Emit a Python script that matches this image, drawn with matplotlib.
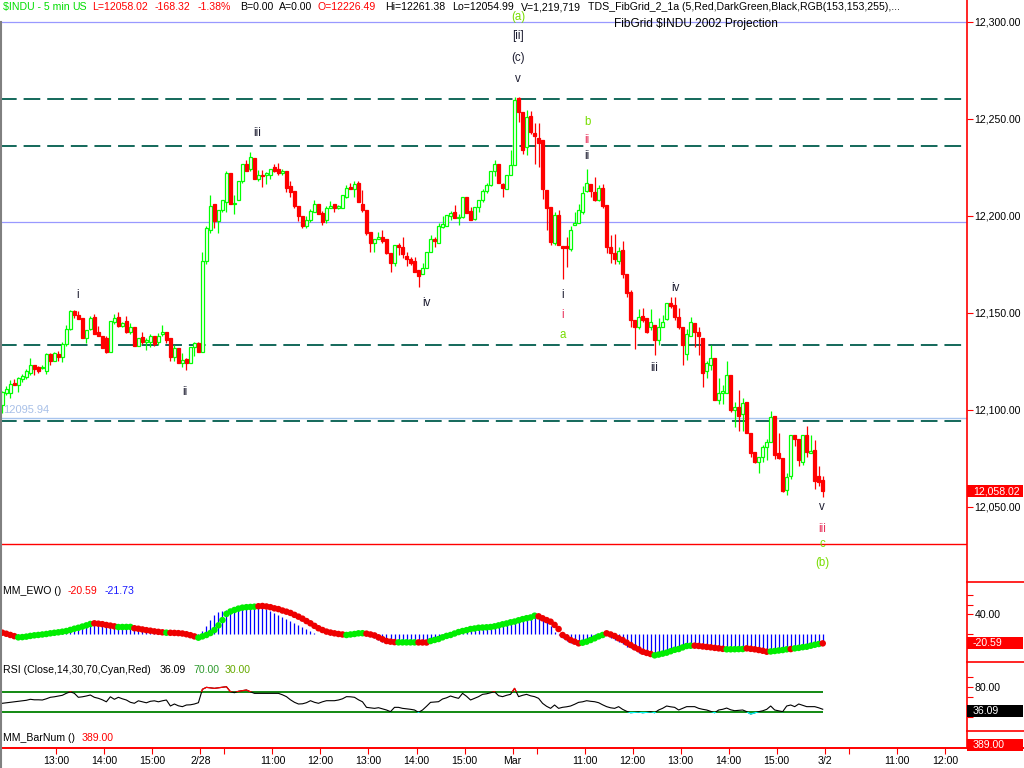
import numpy as np
import matplotlib
matplotlib.use("Agg")
import matplotlib.pyplot as plt
from matplotlib.patches import Rectangle
from matplotlib.lines import Line2D

plt.rcParams['font.family'] = ['Liberation Sans', 'DejaVu Sans']
plt.rcParams['lines.scale_dashes'] = False

# 5 min bars: 2/27 (from 11:50), 2/28, 3/1
opens = [
    12102.7, 12109, 12109, 12114, 12113, 12116, 12117, 12119, 12123, 12122,
    12121.7, 12120, 12129, 12125, 12129, 12127.5, 12134, 12142, 12151, 12149,
    12147.5, 12137, 12142, 12148, 12140, 12138, 12137, 12130, 12145.5, 12148,
    12143.5, 12146, 12140, 12143, 12133, 12137.7, 12135, 12135, 12138, 12135,
    12139, 12140, 12137, 12127.5, 12132, 12124, 12126.5, 12124, 12132.6, 12134.5,
    12130, 12177, 12193, 12206, 12197.5, 12203, 12207, 12222, 12206, 12208,
    12218, 12227, 12224, 12230, 12219, 12221, 12221, 12221, 12225, 12224,
    12222, 12223, 12215.5, 12213, 12205, 12200, 12195, 12198, 12202, 12206,
    12201.6, 12198, 12204, 12206, 12204, 12204, 12210, 12215, 12214, 12217,
    12206, 12203, 12191.6, 12186, 12188, 12189, 12188, 12181, 12176, 12185,
    12184, 12179.5, 12178, 12177, 12172, 12170, 12173, 12181.5, 12188, 12186,
    12194.5, 12195, 12200, 12202, 12199, 12199.5, 12210, 12202.6, 12198.6, 12204.7,
    12208, 12213, 12216, 12223, 12227, 12216.6, 12214, 12221,
    12226.49, 12261, 12253.6, 12235.6, 12251.5, 12243, 12240, 12239, 12213.5, 12204.6,
    12186, 12200.5, 12184.5, 12184.5, 12183, 12195.4, 12196.4, 12202, 12213, 12216.6,
    12212.5, 12208.4, 12214.5, 12205.6, 12184, 12181, 12177, 12182.5, 12170, 12161,
    12146.6, 12143, 12148.6, 12147.5, 12143, 12144, 12136, 12143, 12147, 12155,
    12154, 12148, 12143, 12129, 12138, 12145, 12140, 12137, 12120, 12123,
    12127, 12105, 12108.6, 12109, 12118, 12100, 12101.5, 12098, 12104, 12088,
    12078.4, 12073, 12076, 12081, 12083.7, 12097, 12077.6, 12075, 12059, 12066,
    12087.3, 12085, 12073.4, 12087.3, 12077.6, 12079.6, 12066, 12064,
]
closes = [
    12109.4, 12111, 12113.6, 12113, 12116.7, 12117.7, 12120, 12123, 12121, 12120,
    12122.3, 12129, 12125, 12129.5, 12127.5, 12134, 12142, 12151, 12149, 12147,
    12137, 12141, 12147.5, 12139, 12138, 12132, 12130, 12146, 12147.5, 12143.5,
    12145, 12140, 12143, 12133, 12137, 12135, 12136, 12138, 12134, 12138,
    12140, 12136, 12127.5, 12132, 12124, 12126, 12124, 12132.6, 12134.5, 12130,
    12177, 12194, 12205, 12197.5, 12203, 12208, 12222, 12206, 12206.5, 12218,
    12227, 12223, 12230.5, 12219, 12221, 12220.5, 12222, 12224, 12223, 12222,
    12223, 12214.5, 12212.5, 12205, 12200, 12195, 12198, 12202.6, 12206, 12201,
    12197, 12204, 12205, 12204, 12205, 12210.6, 12214.5, 12214, 12216.5, 12207,
    12203, 12191, 12186, 12188, 12189, 12187, 12181, 12176, 12185, 12184,
    12180.5, 12178, 12176, 12171, 12169, 12173, 12181.5, 12188, 12187, 12195,
    12196, 12200.6, 12201.6, 12199, 12199.5, 12210, 12201.6, 12198, 12204.7, 12208,
    12213, 12216, 12223, 12227, 12217, 12214.5, 12221, 12226.5,
    12260, 12253.6, 12234, 12251, 12243.3, 12241, 12237.6, 12214, 12204, 12186.7,
    12200.5, 12185, 12183.5, 12183.5, 12193, 12196.4, 12203, 12212, 12217, 12213,
    12208.4, 12214.5, 12205, 12184, 12181, 12178, 12182, 12170, 12160.4, 12146.6,
    12143, 12148, 12146.6, 12140, 12145.5, 12136, 12143, 12145.5, 12155, 12153.6,
    12148, 12143, 12133.5, 12139, 12145.5, 12140, 12138, 12119, 12124, 12127,
    12105, 12108.6, 12109.6, 12118, 12100, 12101.5, 12097, 12103.6, 12088, 12078,
    12073, 12076, 12081, 12083.7, 12096.6, 12076.6, 12075, 12058.4, 12065.7, 12087,
    12085, 12074, 12087, 12078.4, 12079, 12063.6, 12063, 12058.02,
]
highs = [
    12110, 12112.5, 12115.6, 12116, 12117, 12118.7, 12121, 12126.6, 12123.4, 12122.5,
    12123, 12129.5, 12129.5, 12130, 12130.5, 12135, 12144, 12151.6, 12151.6, 12151,
    12147.5, 12141, 12148.5, 12149.3, 12143.5, 12138, 12138, 12146, 12149.5, 12150.5,
    12145.5, 12148.5, 12144.6, 12143, 12137, 12140, 12137, 12139, 12138, 12139.5,
    12144, 12140, 12137, 12133.5, 12132, 12129.6, 12127, 12132.6, 12135, 12135,
    12181.5, 12195, 12211, 12206, 12203, 12208, 12223, 12222, 12211, 12218,
    12227, 12229, 12233, 12230, 12223.5, 12223.6, 12222.5, 12224, 12227, 12227.5,
    12224, 12223, 12218, 12213, 12205, 12200, 12200, 12203.6, 12208, 12206,
    12202.5, 12205, 12207.6, 12206, 12205.5, 12210.6, 12216, 12217, 12218, 12218,
    12213.5, 12203, 12191.6, 12188, 12191.6, 12192.6, 12188, 12181, 12185, 12186,
    12189, 12181.6, 12179, 12179, 12172, 12176, 12181.5, 12190, 12189, 12196.5,
    12200, 12200.6, 12202.6, 12205.6, 12201, 12210, 12210, 12204.5, 12204.7, 12208,
    12213.8, 12217, 12223, 12229, 12227, 12217, 12221, 12234,
    12261.38, 12261.38, 12253.6, 12254.6, 12254.3, 12248, 12248, 12239, 12213.5, 12204.6,
    12202, 12203, 12184.5, 12189, 12194.6, 12202, 12206, 12215.5, 12224, 12216.6,
    12220, 12216, 12216.5, 12205.6, 12190, 12190.5, 12184, 12187, 12170, 12162,
    12146.6, 12152, 12152.7, 12147.5, 12152, 12144, 12147.6, 12149, 12155, 12158,
    12158, 12152.7, 12143, 12141.6, 12148, 12145, 12142.7, 12137, 12125, 12133.6,
    12127, 12116.5, 12113, 12125, 12118, 12104, 12110.5, 12106, 12104, 12088,
    12078.4, 12076, 12082, 12085, 12099.7, 12097, 12088, 12075, 12067.5, 12087,
    12087.3, 12085, 12087, 12092, 12087, 12084.5, 12071, 12066,
]
lows = [
    12098.6, 12107.6, 12106, 12113, 12109.5, 12114.6, 12116, 12118, 12118.2, 12119.3,
    12121, 12118.5, 12123, 12125, 12125, 12124.6, 12133, 12141, 12147.5, 12147,
    12137, 12134.5, 12141, 12139, 12138, 12132, 12129.5, 12130, 12144.5, 12143,
    12143, 12139.5, 12139, 12133, 12133, 12134, 12131, 12132.5, 12133, 12133.5,
    12138, 12134.6, 12125, 12125, 12124, 12122, 12120.6, 12124, 12128, 12130,
    12130, 12175, 12191, 12194, 12191, 12202, 12202, 12206, 12201, 12208,
    12217, 12223, 12223, 12219, 12218, 12215, 12216.5, 12219, 12222.5, 12221,
    12221, 12212.5, 12210, 12204, 12197.5, 12194, 12194, 12197, 12202, 12201,
    12195.5, 12196.6, 12204, 12202, 12203.6, 12204, 12209.5, 12214, 12210, 12207,
    12202, 12190, 12181.5, 12181.5, 12188, 12186, 12180.5, 12171, 12174, 12180,
    12178.5, 12174, 12174.5, 12171, 12163.5, 12170, 12173, 12181.5, 12184, 12186,
    12194, 12195, 12198, 12199, 12195.5, 12199, 12201.6, 12198, 12198, 12202,
    12207, 12211.6, 12215.5, 12220.5, 12217, 12210, 12214, 12221,
    12226.49, 12248.5, 12232, 12231.5, 12242.3, 12227, 12225, 12209, 12193, 12185,
    12185, 12185, 12167.6, 12173.7, 12182, 12195.4, 12196.4, 12201, 12212.5, 12210,
    12207.5, 12207.5, 12204, 12181, 12176, 12175, 12175, 12168, 12158, 12143,
    12131.6, 12142, 12145.5, 12139.5, 12141, 12128.5, 12133.5, 12143, 12146.6, 12152.6,
    12146.6, 12142, 12123, 12126, 12138, 12132.5, 12128.5, 12112, 12116.5, 12120.6,
    12105, 12103, 12103, 12109, 12099, 12091, 12089, 12089, 12088, 12076,
    12072.5, 12067.6, 12073, 12074, 12083.7, 12074.6, 12074.6, 12057.5, 12056.4, 12064.6,
    12081.6, 12071, 12071.5, 12076, 12077.6, 12059.5, 12061, 12054.99,
]

# MM_EWO: histogram and dotted average
ewo_hist = [
    -2, -4, -6, -8, -7, -6, -5, -4, -3, -2,
    -1, 0, 1.5, 2.5, 4, 5, 7, 9.5, 12, 14,
    16.5, 19, 21.5, 20.5, 19, 18, 16, 15, 13.5, 14,
    14.2, 14.2, 14, 9.5, 8.5, 7, 5.5, 4.5, 3, 2.5,
    1.5, 2.5, 0.5, 0, -0.5, -1.5, -3, -5, -8, -7,
    6, 16, 28, 38, 44, 48, 50, 52, 54, 55,
    55.5, 56.5, 57, 57, 56, 54, 51, 47, 43, 39,
    35, 31, 27, 22, 17, 13, 9, 5, 2, 0,
    -1, -2, -3, -3.5, -4, -4, -2, 0, 1, 2,
    1.5, -3, -6, -10, -14, -17, -19, -19.5, -19, -18,
    -18, -18, -18, -18.2, -19, -19.5, -19, -12, -9, -6,
    -3, 0, 3, 5, 7, 9, 10.5, 12, 13, 14,
    14.5, 15.5, 17, 19, 21, 23, 25, 27, 30, 32,
    34, 36, 38, 40, 34, 30, 26, 15, 4, -4,
    -10, -15, -19, -21, -22, -17, -13, -9, -6, -3,
    -1, -2, -9, -13, -17, -22, -27.5, -31, -35, -40,
    -42, -43, -44, -44.5, -42, -40, -38, -35, -32, -30,
    -27, -25, -24.5, -26, -27, -28, -29, -30, -31, -32,
    -33, -32.5, -32.5, -32.5, -32.3, -32, -32, -33, -34, -35,
    -37, -39, -37, -36, -35, -34, -32.5, -33, -30.5, -29,
    -27.5, -26.5, -24.5, -22.5, -21, -21.73,
]
ewo_avg = [
    1.7, -0.5, -3, -5.5, -8, -7.5, -6.5, -5, -3.8, -3,
    -2, -1, 0.4, 1.5, 2.5, 3.8, 5.2, 7.5, 10, 12,
    14.5, 17, 19.9, 21.3, 20.5, 19.5, 17.8, 16.5, 15, 13.5,
    13.6, 13.7, 13.8, 11, 10, 8.5, 7, 5.9, 4.5, 3.5,
    2.5, 1.7, 1.5, 1.2, 0.8, 0, -1.5, -3.5, -6, -8.7,
    -6, -3.1, 1, 7.3, 17, 28, 40.8, 46, 49.1, 52,
    54, 55, 55.5, 56, 57, 57.5, 56.5, 55, 52.6, 51,
    48, 45.6, 43, 39, 35.2, 31, 26, 21.3, 16, 11,
    7.3, 4, 2, 0.4, -1, -2, -3.1, -2, -1, 0.4,
    0.6, -0.3, -2, -4, -8, -12, -15.7, -17, -18, -18.5,
    -18.5, -18.5, -18.5, -18.5, -18.6, -18.7, -18.8, -15.7, -13.5, -11.5,
    -8, -5, -3.1, 0, 3, 5.2, 7, 9.4, 10.5, 12,
    12.5, 13, 13.6, 15, 17, 19.2, 21, 23.4, 25, 27.6,
    30, 32, 33.5, 37.2, 35.9, 31.8, 28, 24.7, 18, 9.4,
    -3.1, -8, -13.6, -17, -20.5, -19.2, -17, -13.6, -10, -6,
    -3.1, 0.4, -2, -5.2, -10, -13.6, -19, -24, -28.9, -33,
    -38, -40.5, -42.8, -45.6, -44, -42, -40, -37, -34, -32.4,
    -29, -26.1, -25.5, -25.4, -26, -27, -28, -28.9, -30, -31,
    -32, -33, -33, -32.8, -32.6, -32.4, -31, -32, -33, -34.5,
    -36, -38, -37.5, -36.5, -35.5, -34.5, -33, -32.5, -31, -30,
    -28.5, -27.6, -25.5, -23.5, -21.9, -20.59,
]
rsi = [
    48, 49, 50, 51, 52, 53, 54, 56, 55, 55,
    54.6, 57, 60, 61, 62.6, 64, 68, 71, 68, 60,
    61, 62.6, 64.6, 60, 58, 55, 51, 61, 56, 60,
    57, 54.6, 50, 48, 53, 51, 49, 52, 53, 51,
    53, 54.6, 42.6, 46.6, 43, 41.3, 44.6, 45, 46.6, 49.2,
    76, 79.9, 79, 77.9, 79, 79.9, 81.2, 71.2, 69.2, 72,
    73.2, 74.6, 71, 67.9, 67.9, 67.9, 67.9, 67.9, 67.9, 67.9,
    65, 61.3, 55, 50, 46.6, 47, 49.2, 53.2, 50, 48,
    51, 53.2, 53.2, 53.2, 54.6, 57, 61.3, 61, 60, 55,
    51, 39.9, 39, 37.9, 39.2, 37, 34.6, 31.3, 39.9, 39.9,
    37.9, 37, 36, 34.6, 29.9, 34.6, 42, 49.9, 50.5, 51.2,
    56.6, 59, 62.6, 60, 57.9, 67.9, 62, 54.6, 58, 61.3,
    65.9, 67, 69, 71.2, 63.2, 61.3, 64, 65.9, 77.9, 61.3,
    64, 65.9, 63, 61.3, 57.9, 47.9, 42, 37.9, 44.6, 37.9,
    40, 41, 42.6, 46, 49.9, 51, 53.2, 52, 51.2, 49.2,
    45, 41.3, 39, 37.9, 41.3, 35.9, 32, 29.2, 30, 30.6,
    29.2, 30, 31.3, 29.2, 34.6, 38, 42.6, 41, 39.9, 34.6,
    38, 41.3, 41.3, 41.3, 37.9, 36, 34.6, 32, 29.2, 34.6,
    36, 38.5, 35, 33.2, 34, 34.6, 31.3, 26.5, 29, 31.3,
    33, 35.9, 42.6, 34.6, 33, 31.3, 42.6, 44.6, 41.3, 46.6,
    44, 41.3, 41.3, 41.3, 39, 36.09,
]
bar_num = 389

# fib grid levels
fib_dashed = [12260.4, 12236.1, 12133.6, 12094.4]
fib_blue = [12300.0, 12196.9]
proj_level = 12095.94
red_level = 12030.9

# elliott wave labels: text, bar, price, colour key
waves = [
    ('(a)', 128.9, 12302.6, 'g'), ('[ii]', 128.9, 12292.8, 'k'),
    ('(c)', 128.9, 12281.4, 'k'), ('v', 128.9, 12270.6, 'k'),
    ('iii', 63.6, 12242.8, 'k'), ('i', 18.9, 12159.3, 'k'),
    ('ii', 45.7, 12109.3, 'k'), ('iv', 105.9, 12155.2, 'k'),
    ('b', 146.1, 12248.5, 'g'), ('ii', 146.1, 12239.2, 'r'),
    ('ii', 146.1, 12230.9, 'k'), ('i', 140.1, 12159.3, 'k'),
    ('i', 140.1, 12149.0, 'r'), ('a', 140.1, 12138.7, 'g'),
    ('iv', 168.1, 12162.9, 'k'), ('iii', 162.8, 12121.6, 'k'),
    ('v', 204.8, 12050.0, 'k'), ('iii', 204.8, 12038.7, 'r'),
    ('c', 204.8, 12030.9, 'g'), ('(b)', 204.8, 12021.1, 'g'),
]
wave_colors = {'k': '#1c1c30', 'r': '#e8305a', 'g': '#77dd00'}

# time axis: bar index -> label
time_ticks = [(14, '13:00'), (26, '14:00'), (38, '15:00'), (50, '2/28'), (56, ''),
              (68, '11:00'), (80, '12:00'), (92, '13:00'), (104, '14:00'),
              (116, '15:00'), (128, 'Mar'), (134, ''), (146, '11:00'),
              (158, '12:00'), (170, '13:00'), (182, '14:00'), (194, '15:00'),
              (206, '3/2'), (212, ''), (224, '11:00'), (236, '12:00')]

o = np.array(opens)
c = np.array(closes)
hi = np.array(highs)
lo = np.array(lows)
x = np.arange(len(c))

W, H = 1024, 768
AX_R = 967
fig = plt.figure(figsize=(W / 100, H / 100), dpi=100)
fig.patch.set_facecolor('white')
FS = 7.6


def panel(top, bottom):
    a = fig.add_axes([0, 1 - bottom / H, AX_R / W, (bottom - top) / H])
    a.set_facecolor('none')
    for s in a.spines.values():
        s.set_visible(False)
    a.set_xlim(-0.575, 241.05)
    a.tick_params(axis='x', bottom=False, labelbottom=False)
    a.yaxis.tick_right()
    a.tick_params(axis='y', direction='out', length=4, color='red',
                  labelsize=FS, pad=1.5, labelcolor='black')
    return a


def ftext(px, py, s, color='black', size=FS, **kw):
    fig.text(px / W, 1 - py / H, s, color=color, fontsize=size, va='center', **kw)


def value_box(ypix_top, s, fc):
    fig.add_artist(Rectangle((AX_R / W, 1 - (ypix_top + 6) / H), 56 / W, 12 / H,
                             transform=fig.transFigure, fc=fc, ec='none', zorder=5))
    fig.text(973 / W, 1 - ypix_top / H, s, color='white', fontsize=FS,
             va='center', ha='left', zorder=6)


def ypix(a, v):
    return H - a.transData.transform((0, v))[1]


# ---- price panel
ax = panel(0, 582)
ax.set_ylim(12011.34, 12311.34)
ticks = [12050, 12100, 12150, 12200, 12250, 12300]
ax.set_yticks(ticks)
ax.set_yticklabels(['{:,.2f}'.format(t) for t in ticks])

for lv in fib_blue:
    ax.axhline(lv, color='#9999ff', lw=0.9, zorder=1)
ax.axhline(proj_level, color='#a8c4ee', lw=1.0, zorder=1)
for lv in fib_dashed:
    ax.axhline(lv, color='#13685a', lw=1.4, dashes=(12, 5), zorder=1)
ax.axhline(red_level, color='red', lw=1.0, zorder=1)
ax.text(0.25, 12100.0, '{:.2f}'.format(proj_level), color='#a8c0e8',
        fontsize=8, va='center', ha='left')

up = c >= o
col = np.where(up, '#00ff00', '#ff0000')
ax.vlines(x, lo, hi, colors=col, lw=0.9, zorder=2)
body = np.maximum(np.abs(c - o), 0.25)
ax.bar(x[up], body[up], bottom=np.minimum(o, c)[up], width=0.78,
       facecolor='white', edgecolor='#00ff00', linewidth=0.9, zorder=3)
ax.bar(x[~up], body[~up], bottom=np.minimum(o, c)[~up], width=0.78,
       facecolor='#ff0000', edgecolor='#ff0000', linewidth=0.9, zorder=3)

for s, bx, py, k in waves:
    ax.text(bx, py, s, color=wave_colors[k], fontsize=8.3, ha='center',
            va='center', zorder=4)

# ---- EWO panel
ax2 = panel(582, 662)
ax2.set_ylim(-59.5, 107.6)
ax2.set_yticks([80, 60, 40, 0])
ax2.set_yticklabels(['', '', '40.00', ''])
eh = np.array(ewo_hist)
ea = np.array(ewo_avg)
ax2.vlines(x, 0, eh, colors='#0000ff', lw=0.9, zorder=2)
dot_col = np.where(eh > ea, '#00ee00', '#ee0000')
ax2.scatter(x, ea, c=dot_col, s=22, linewidths=0, zorder=3)

# ---- RSI panel
ax3 = panel(662, 731)
ax3.set_ylim(-7.4, 130.6)
ax3.set_yticks([100, 80, 60, 40, 20])
ax3.set_yticklabels(['', '80.00', '', '', ''])
ax3.hlines([70, 30], -0.575, 205, color='#008000', lw=1.3, zorder=1)
ax3.plot(x, rsi, color='black', lw=0.8, zorder=2)
for ylo, yhi, cc in [(70, 200, 'red'), (-50, 30, 'cyan')]:
    ln, = ax3.plot(x, rsi, color=cc, lw=0.9, zorder=3)
    ln.set_clip_path(Rectangle((-10, ylo), 300, yhi - ylo, transform=ax3.transData))

# ---- BarNum panel with time axis
ax4 = panel(731, 748)
ax4.set_yticks([])
ax4.set_xticks([t - 0.5 for t, _ in time_ticks])
ax4.set_xticklabels([lab for _, lab in time_ticks])
ax4.tick_params(axis='x', bottom=True, labelbottom=True, direction='out', length=4,
                color='red', labelsize=FS, pad=2, labelcolor='black')

# frame lines
fig.add_artist(Line2D([AX_R / W, AX_R / W], [1 - 748 / H, 1], color='red', lw=1.2))
for yy in (582, 662, 731):
    fig.add_artist(Line2D([AX_R / W, 1], [1 - yy / H] * 2, color='red', lw=1.2))
fig.add_artist(Line2D([0, 1], [1 - 748 / H] * 2, color='red', lw=1.4))
fig.add_artist(Line2D([0.6 / W] * 2, [0, 1 - 22 / H], color='#808080', lw=1.5))

# header
header = [
    (3, '$INDU - 5 min', '#00dd00'), (72, 'US', '#00dd00'),
    (92, 'L={:.2f}'.format(c[-1]), 'red'), (155, '-168.32', 'red'),
    (198, '-1.38%', 'red'), (240, 'B=0.00', 'black'), (279, 'A=0.00', 'black'),
    (318, 'O={:.2f}'.format(o[128]), 'red'),
    (385, 'Hi={:.2f}'.format(hi[128:].max()), 'black'),
    (452, 'Lo={:.2f}'.format(lo[128:].min()), 'black'),
    (521, 'V=1,219,719', 'black'),
    (588, 'TDS_FibGrid_2_1a (5,Red,DarkGreen,Black,RGB(153,153,255),...', 'black'),
]
for px, s, cc in header:
    ftext(px, 7, s, cc)
ftext(614, 24, 'FibGrid $INDU 2002 Projection', 'black', size=8.6)

ftext(3, 591, 'MM_EWO ()')
ftext(68, 591, '{:.2f}'.format(ea[-1]), 'red')
ftext(105, 591, '{:.2f}'.format(eh[-1]), '#1a1aff')
ftext(3, 670, 'RSI (Close,14,30,70,Cyan,Red)')
ftext(160, 670, '{:.2f}'.format(rsi[-1]))
ftext(193, 670, '70.00', '#2e9a2e')
ftext(225, 670, '30.00', '#66aa00')
ftext(3, 738, 'MM_BarNum ()')
ftext(82, 738, '{:.2f}'.format(bar_num), 'red')

# last value boxes on the right axis
value_box(ypix(ax, c[-1]), '{:,.2f}'.format(c[-1]), '#ff0000')
value_box(ypix(ax2, ea[-1]), '{:.2f}'.format(ea[-1]), '#ff0000')
value_box(ypix(ax3, rsi[-1]) + 1.5, '{:.2f}'.format(rsi[-1]), 'black')
value_box(745, '{:.2f}'.format(bar_num), '#ff0000')

fig.savefig('out.png', dpi=100, facecolor='white')
